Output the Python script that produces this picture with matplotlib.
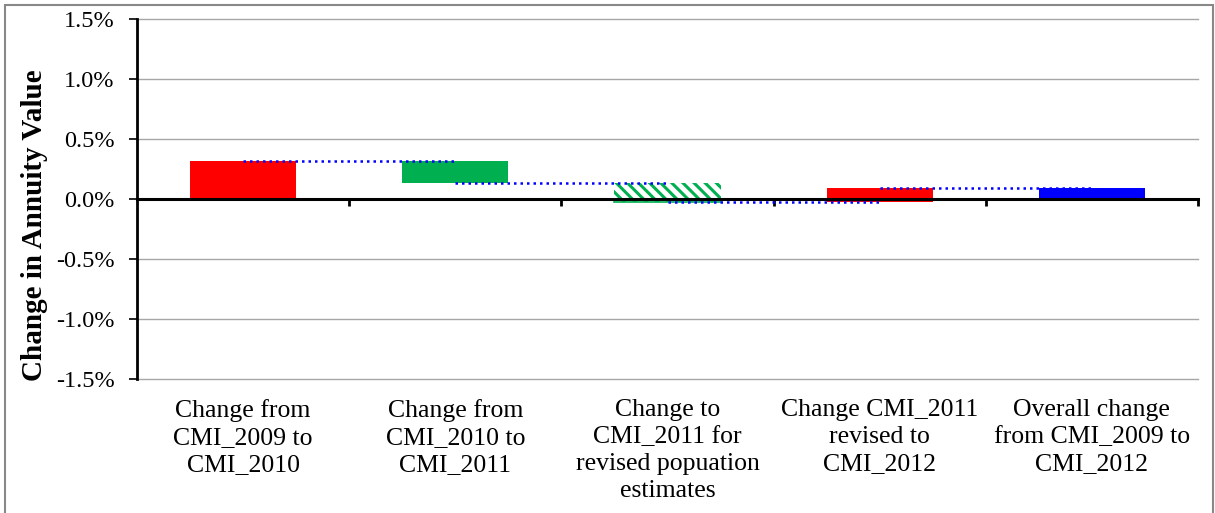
import numpy as np
import matplotlib
matplotlib.use("Agg")
import matplotlib.pyplot as plt
import matplotlib.transforms as mtransforms
from matplotlib.patches import Rectangle
from matplotlib.ticker import PercentFormatter

# waterfall of annuity value changes, in percent
categories = ["Change from\nCMI_2009 to\nCMI_2010",
              "Change from\nCMI_2010 to\nCMI_2011",
              "Change to\nCMI_2011 for\nrevised popuation\nestimates",
              "Change CMI_2011\nrevised to\nCMI_2012",
              "Overall change\nfrom CMI_2009 to\nCMI_2012"]
changes = [0.32, -0.19, -0.155, 0.115]
bar_colors = ["#FF0000", "#00B050", "#FFFFFF", "#FF0000", "#0000FF"]
hatched = [False, False, True, False, False]

SERIF = ["Liberation Serif", "DejaVu Serif"]
plt.rcParams["font.family"] = SERIF
plt.rcParams["axes.unicode_minus"] = False
plt.rcParams["hatch.linewidth"] = 2.2

levels = np.concatenate([[0.0], np.cumsum(changes)])
starts = list(levels[:-1]) + [0.0]
ends = list(levels[1:]) + [levels[-1]]

fig = plt.figure(figsize=(12.15, 5.13), dpi=100)
ax = fig.add_axes([137 / 1215, 1 - 379 / 513, (1198 - 137) / 1215, 360 / 513])

x = np.arange(len(categories))
for i in range(len(categories)):
    lo, hi = min(starts[i], ends[i]), max(starts[i], ends[i])
    if hatched[i]:
        ax.bar(x[i], hi - lo, bottom=lo, width=0.5, color="white",
               edgecolor="#00B050", hatch="\\\\\\", linewidth=0, zorder=2)
        ax.plot([x[i] - 0.25, x[i] + 0.25], [lo, lo], color="#00B050", lw=1.2, zorder=2)
    else:
        ax.bar(x[i], hi - lo, bottom=lo, width=0.5, color=bar_colors[i],
               linewidth=0, zorder=2)

# dotted connectors between successive bars
for i in range(len(categories) - 1):
    ax.plot([x[i], x[i + 1]], [ends[i], ends[i]], color="#0000FF",
            linestyle=(0, (1, 1.6)), lw=1.8, zorder=4)

ax.set_xlim(-0.5, len(categories) - 0.5)
ax.set_ylim(-1.5, 1.5)
ax.set_yticks(np.arange(-1.5, 1.51, 0.5))
ax.yaxis.set_major_formatter(PercentFormatter(xmax=100, decimals=1))
ax.grid(axis="y", color="#A6A6A6", lw=1.0, zorder=0)
ax.set_axisbelow(True)
for gl in ax.get_ygridlines():
    gl.set_clip_on(False)

for side in ["top", "right"]:
    ax.spines[side].set_visible(False)
ax.spines["left"].set_linewidth(2)
ax.spines["bottom"].set_position(("data", 0))
ax.spines["bottom"].set_linewidth(2.2)
ax.spines["bottom"].set_zorder(3)

ax.set_xticks(np.arange(0.5, len(categories), 1.0))
ax.tick_params(axis="x", direction="out", length=5, width=2, labelbottom=False)
ax.tick_params(axis="y", direction="out", length=6, width=1.2, labelsize=17.5, pad=10)

trans = mtransforms.blended_transform_factory(ax.transData, ax.transAxes)
for i, label in enumerate(categories):
    ax.text(x[i], -0.055, label, transform=trans, ha="center", va="top",
            fontsize=18.5, linespacing=1.3)

ax.set_ylabel("Change in Annuity Value", fontsize=21, fontweight="bold")
ax.yaxis.set_label_coords(-0.084, 0.428)

# chart-area border
fig.patches.append(Rectangle((5 / 1215, -0.02), 1208 / 1215, 1 - 5 / 513 + 0.02,
                             transform=fig.transFigure, fill=False,
                             edgecolor="#888888", lw=1.5))

fig.savefig("out.png", dpi=100)
